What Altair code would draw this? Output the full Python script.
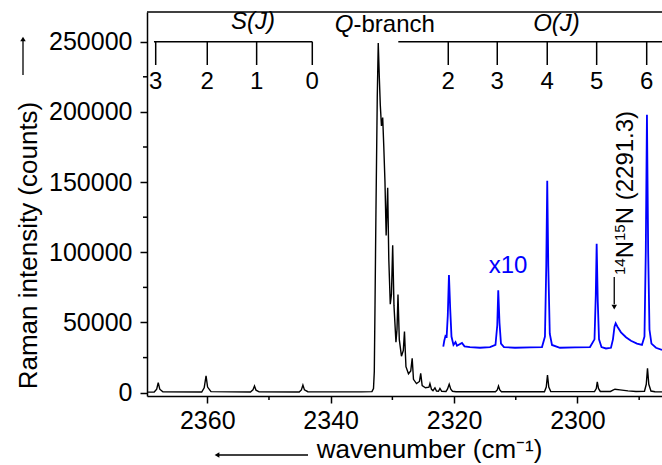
import altair as alt
import pandas as pd

FONT = "Liberation Sans"

# ---- black spectrum (wavenumber, counts) ----
black_wn = [2369.77, 2368.6, 2368.2, 2367.95, 2367.7, 2367.2,
            2360.9, 2360.5, 2360.2, 2359.95, 2359.4,
            2353.0, 2352.6, 2352.35, 2352.1, 2351.6,
            2345.1, 2344.75, 2344.5, 2344.25, 2343.7,
            2335.0, 2333.31, 2333.06, 2332.93, 2332.82, 2332.66, 2332.45, 2332.29,
            2332.12, 2331.96, 2331.77, 2331.57, 2331.39, 2331.20, 2331.01, 2330.76,
            2330.58, 2330.34, 2330.15, 2329.95, 2329.74, 2329.42, 2329.25, 2329.09,
            2328.88, 2328.53, 2328.23, 2328.04, 2327.80, 2327.39, 2327.02, 2326.79,
            2326.58, 2326.09, 2325.61, 2325.41, 2325.17, 2324.64, 2324.07, 2323.91,
            2323.66, 2323.42, 2323.10, 2322.85, 2322.53, 2322.29, 2322.01,
            2321.31, 2321.07, 2320.79, 2320.53, 2320.26, 2319.69,
            2313.29, 2313.00, 2312.80, 2312.59, 2312.32,
            2305.35, 2305.06, 2304.86, 2304.65, 2304.33,
            2297.24, 2296.95, 2296.79, 2296.60, 2296.30,
            2294.65, 2294.25, 2293.92, 2293.11, 2291.82, 2290.52,
            2289.14, 2288.85, 2288.65, 2288.44, 2288.09, 2287.44, 2286.3]
black_I = [400, 500, 2500, 7200, 2500, 700,
           500, 3500, 12000, 4000, 800,
           500, 2000, 4800, 1800, 600,
           500, 2000, 5500, 2000, 700,
           600, 800, 3000, 15000, 60000, 130000, 210000, 249000,
           225000, 205000, 190000, 196000, 175000, 150000, 112000, 146000,
           95000, 63000, 70000, 105000, 62000, 36000, 45000, 70000,
           38000, 26000, 30000, 43500, 18500, 13500, 15500, 24500,
           9500, 6500, 8000, 13800, 5000, 3500, 4000, 6500,
           2400, 1500, 3500, 1200, 1000, 3100, 1000,
           900, 2500, 6000, 2500, 1000, 700,
           700, 2000, 4800, 2000, 700,
           700, 4000, 12600, 4000, 900,
           800, 3000, 7800, 3000, 900,
           900, 1800, 2500, 2000, 1300, 900,
           1000, 6000, 17400, 6000, 1200, 700, 600]

# ---- blue (x10) spectrum ----
blue_wn = [2321.75, 2321.59, 2321.39, 2321.20, 2321.02, 2320.83, 2320.63, 2320.42,
           2320.10, 2319.77, 2319.53, 2318.72, 2318.31, 2317.42, 2315.80, 2314.18,
           2313.29, 2313.00, 2312.84, 2312.64, 2312.40, 2311.91, 2310.13, 2307.70,
           2305.75, 2305.27, 2305.06, 2304.90, 2304.73, 2304.49, 2304.13, 2302.84,
           2300.41, 2297.97, 2297.24, 2297.03, 2296.89, 2296.71, 2296.51, 2296.11,
           2295.38, 2294.57, 2294.25, 2294.00, 2293.81, 2293.52, 2292.95, 2292.14,
           2291.33, 2290.36, 2289.55, 2289.14, 2288.93, 2288.74, 2288.54, 2288.33,
           2288.01, 2287.28, 2286.3]
blue_I = [32800, 37000, 40500, 40000, 55000, 83800, 60000, 40000,
          34000, 36000, 33500, 35500, 33000, 32500, 32000, 32500,
          34000, 48000, 73000, 50000, 35000, 32500, 32000, 32300,
          32500, 40000, 90000, 151000, 90000, 42000, 34000, 32000,
          32300, 32500, 38000, 70000, 106000, 65000, 38000, 32500,
          31500, 32000, 38000, 47000, 49400, 47000, 43000, 39500,
          37000, 35000, 34000, 40000, 100000, 198000, 100000, 45000,
          35000, 32000, 30500]

# ---- branch assignment brackets ----
s_pos = [2368.36, 2360.0, 2352.0, 2342.98]
s_lab = ["3", "2", "1", "0"]
o_pos = [2320.94, 2313.00, 2304.90, 2296.89, 2288.78]
o_lab = ["2", "3", "4", "5", "6"]
s_span = [2368.64, 2342.98]
o_span = [2329.04, 2286.3]
bracket_level = 250000
tick_end = 233400
label_level = 221300

x_major = [2360, 2340, 2320, 2300]
x_minor = [2350, 2330, 2310, 2290]
y_major = [0, 50000, 100000, 150000, 200000, 250000]
y_minor = [25000, 75000, 125000, 175000, 225000]

W, H = 515, 384
xsc = alt.Scale(domain=[2286.3, 2369.77], reverse=True, nice=False, zero=False)
ysc = alt.Scale(domain=[-2350, 271150], nice=False, zero=False)

xaxis = alt.Axis(values=x_major, format="d", tickSize=7, tickWidth=1.5, tickColor="black",
                 domainColor="black", domainWidth=1.5, labelFont=FONT, labelFontSize=25,
                 labelColor="black", labelPadding=5, labelFlush=False, labelOverlap=False,
                 grid=False, title="wavenumber (cm⁻¹)", titleFont=FONT, titleFontSize=26,
                 titleFontWeight="normal", titleColor="black", titleX=282, titleY=61,
                 titleBaseline="alphabetic", titleAlign="center", titleAngle=0)
yaxis = alt.Axis(values=y_major, format="d", tickSize=7, tickWidth=1.5, tickColor="black",
                 domainColor="black", domainWidth=1.5, labelFont=FONT, labelFontSize=25,
                 labelColor="black", labelPadding=8, labelFlush=False, labelOverlap=False,
                 grid=False, title="Raman intensity (counts)", titleFont=FONT, titleFontSize=26,
                 titleFontWeight="normal", titleColor="black", titleX=-111, titleY=233,
                 titleBaseline="alphabetic", titleAlign="center", titleAngle=270)


def X(field):
    return alt.X(field, type="quantitative", scale=xsc, axis=xaxis)


def Y(field):
    return alt.Y(field, type="quantitative", scale=ysc, axis=yaxis)


black_df = pd.DataFrame({"wn": black_wn, "I": black_I})
blue_df = pd.DataFrame({"wn": blue_wn, "I": blue_I})

black = alt.Chart(black_df).mark_line(color="black", strokeWidth=1.4).encode(x=X("wn"), y=Y("I"))
blue = alt.Chart(blue_df).mark_line(color="#0000ff", strokeWidth=1.8).encode(x=X("wn"), y=Y("I"))

one = pd.DataFrame({"a": [0]})
# top frame line
top_line = alt.Chart(one).mark_rule(color="black", strokeWidth=1.5).encode(
    x=alt.value(0), x2=alt.value(W), y=alt.value(0))

# minor ticks
xminor = alt.Chart(pd.DataFrame({"v": x_minor})).mark_rule(color="black", strokeWidth=1.5).encode(
    x=X("v"), y=alt.value(H), y2=alt.value(H + 4))
yminor = alt.Chart(pd.DataFrame({"v": y_minor})).mark_rule(color="black", strokeWidth=1.5).encode(
    y=Y("v"), x=alt.value(0), x2=alt.value(-4))

# brackets
span_df = pd.DataFrame({"a": [s_span[0], o_span[0]], "b": [s_span[1], o_span[1]],
                        "y": [bracket_level, bracket_level]})
spans = alt.Chart(span_df).mark_rule(color="black", strokeWidth=1.5).encode(
    x=X("a"), x2="b:Q", y=Y("y"))
tick_df = pd.DataFrame({"x": s_pos + o_pos, "lab": s_lab + o_lab,
                        "y1": [bracket_level] * 9, "y2": [tick_end] * 9,
                        "yl": [label_level] * 9})
bticks = alt.Chart(tick_df).mark_rule(color="black", strokeWidth=1.5).encode(
    x=X("x"), y=Y("y1"), y2="y2:Q")
blabels = alt.Chart(tick_df).mark_text(font=FONT, fontSize=24, color="black", baseline="middle").encode(
    x=X("x"), y=Y("yl"), text="lab:N")

# branch titles
bt_df = pd.DataFrame({"x": [2352.6, 2303.4], "y": [264000, 262600], "t": ["S(J)", "O(J)"]})
btitles = alt.Chart(bt_df).mark_text(font=FONT, fontSize=24, fontStyle="italic", color="black",
                                     baseline="middle").encode(x=X("x"), y=Y("y"), text="t:N")
q_df = pd.DataFrame({"x": [2336.3], "y": [262000]})
qit = alt.Chart(q_df).mark_text(font=FONT, fontSize=24, fontStyle="italic", color="black",
                                baseline="middle", align="right", text="Q").encode(x=X("x"), y=Y("y"))
qrest = alt.Chart(q_df).mark_text(font=FONT, fontSize=24, color="black",
                                  baseline="middle", align="left", text="-branch").encode(x=X("x"), y=Y("y"))

# x10 label
x10 = alt.Chart(pd.DataFrame({"x": [2311.26], "y": [89900]})).mark_text(
    font=FONT, fontSize=24, color="#0000ff", baseline="middle", text="x10").encode(x=X("x"), y=Y("y"))

# 14N15N annotation (pieces, rotated)
iso_parts = ["14", "N", "15", "N (2291.3)"]
iso_sizes = [15, 24, 15, 24]
iso_x = [478, 486, 478, 486]
iso_y = [263, 246.3, 229.0, 212.3]
iso_layers = []
for t, s, px, py in zip(iso_parts, iso_sizes, iso_x, iso_y):
    iso_layers.append(alt.Chart(one).mark_text(font=FONT, fontSize=s, color="black", angle=270,
                                               align="left", baseline="alphabetic", text=t).encode(
        x=alt.value(px), y=alt.value(py)))

arr_df = pd.DataFrame({"x": [2294.04], "y1": [82400], "y2": [63000], "yh": [61000]})
iso_arrow = alt.Chart(arr_df).mark_rule(color="black", strokeWidth=1.3).encode(
    x=X("x"), y=Y("y1"), y2="y2:Q")
iso_head = alt.Chart(arr_df).mark_point(shape="triangle-down", filled=True, color="black",
                                        size=30, opacity=1).encode(x=X("x"), y=Y("yh"))

# axis direction arrows
yarr = alt.Chart(one).mark_rule(color="black", strokeWidth=1.3).encode(
    x=alt.value(-124), y=alt.value(63), y2=alt.value(29))
yhead = alt.Chart(one).mark_point(shape="triangle-up", filled=True, color="black", size=30,
                                  opacity=1).encode(x=alt.value(-124), y=alt.value(27))
xarr = alt.Chart(one).mark_rule(color="black", strokeWidth=1.3).encode(
    x=alt.value(72), x2=alt.value(161), y=alt.value(443))
xhead = alt.Chart(one).mark_point(shape="triangle-left", filled=True, color="black", size=30,
                                  opacity=1).encode(x=alt.value(70), y=alt.value(443))

chart = alt.layer(
    black, blue, top_line, xminor, yminor, spans, bticks, blabels, btitles, qit, qrest,
    x10, *iso_layers, iso_arrow, iso_head, yarr, yhead, xarr, xhead
).properties(
    width=W, height=H,
    autosize=alt.AutoSizeParams(type="none"),
    padding={"left": 147, "top": 12, "right": 0, "bottom": 69},
    background="white",
).configure_view(stroke=None)

chart.save("out.html", embed_options={"renderer": "svg", "actions": False})
